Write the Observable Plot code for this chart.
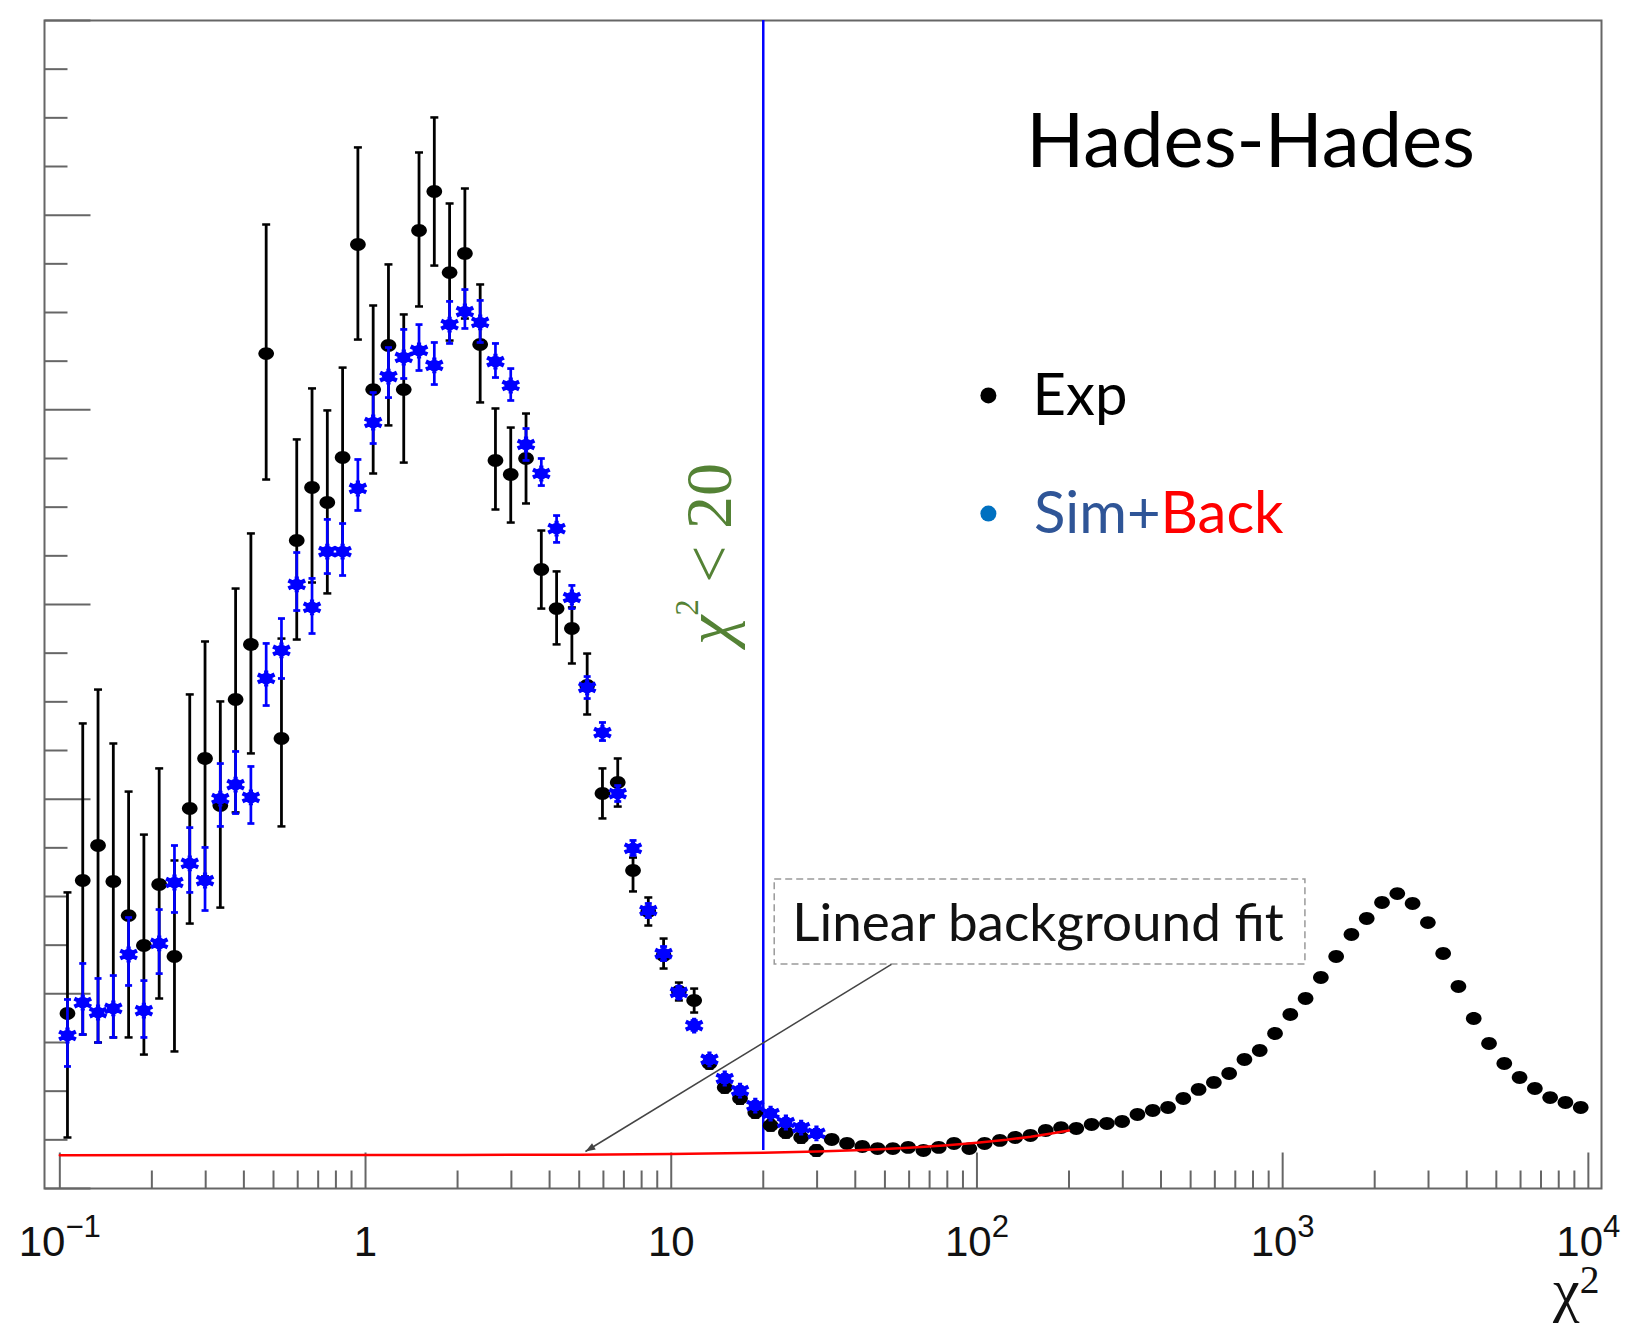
<!DOCTYPE html>
<html>
<head>
<meta charset="utf-8">
<script src="https://cdn.jsdelivr.net/npm/d3@7"></script>
<script src="https://cdn.jsdelivr.net/npm/@observablehq/plot@0.6"></script>
<style>
  html, body { margin: 0; padding: 0; background: #fff; }
  #chart { width: 1630px; height: 1323px; }
</style>
</head>
<body>
<div id="chart"></div>
<script>
// Histogram binning: 20 log-uniform bins per decade, starting at chi2 = 0.1
const binsPerDecade = 20;
const chi2Start = 0.1;

// Experimental distribution (100 bins)
const expCounts = [
  89.9, 158.2, 176.2, 157.7, 140.2, 124.8, 156.2, 119.2, 195.2, 220.9,
  196.7, 251.2, 279.5, 428.9, 231.2, 332.9, 360.1, 352.4, 375.5, 484.9,
  410.4, 433.1, 410.4, 492.1, 512.2, 470.5, 480.3, 433.6, 374.0, 366.8,
  375.0, 318.0, 297.9, 287.7, 258.4, 202.9, 208.6, 163.4, 142.3, 119.7,
  101.2, 96.6, 64.2, 51.9, 46.2, 39.0, 32.4, 28.8, 26.2, 19.5,
  25.2, 23.1, 21.6, 20.5, 20.5, 21.1, 19.5, 21.1, 23.1, 20.5,
  23.1, 24.7, 26.2, 27.2, 29.8, 31.3, 30.8, 32.9, 33.4, 34.4,
  38.0, 40.1, 41.6, 46.2, 50.9, 54.5, 59.1, 66.3, 70.9, 79.6,
  89.4, 97.6, 108.4, 119.2, 130.5, 138.7, 146.9, 151.5, 146.4, 136.6,
  120.7, 103.8, 87.3, 74.5, 64.2, 57.0, 51.4, 46.7, 44.2, 41.6
];
// Error bar ends of the experimental points (first 50 bins)
const expErrHigh = [
  152.1, 238.9, 256.3, 228.6, 203.9, 181.8, 215.8, 168.5, 253.8, 281.0,
  250.2, 308.2, 336.5, 495.2, 282.5, 384.8, 411.0, 399.7, 421.7, 534.8,
  453.6, 474.7, 449.0, 532.2, 550.2, 506.0, 513.7, 464.4, 400.7, 390.9,
  398.1, 338.0, 317.0, 298.5, 274.8, 215.8, 220.9, 170.0, 149.5, 128.4,
  105.8, 102.7, 66.8, 54.5, 48.8, 41.6, 35.0, 31.4, 28.8, 22.1
];
const expErrLow = [
  26.2, 79.1, 75.0, 77.6, 77.6, 68.8, 97.6, 70.4, 136.1, 160.3,
  144.3, 193.2, 223.5, 364.2, 186.0, 282.0, 311.3, 305.7, 327.7, 436.1,
  367.3, 392.0, 372.9, 453.1, 474.1, 435.6, 446.9, 403.8, 348.8, 342.1,
  351.9, 297.9, 279.5, 269.7, 243.5, 190.1, 196.2, 152.6, 135.1, 113.0,
  96.6, 90.4, 61.6, 49.3, 43.6, 36.4, 29.8, 26.2, 23.6, 16.9
];

// Simulation + background (first 50 bins)
const simCounts = [
  78.6, 95.5, 90.4, 92.5, 120.2, 91.4, 125.9, 157.2, 167.0, 158.2,
  200.3, 207.5, 200.9, 262.0, 276.4, 310.3, 298.5, 327.2, 327.2, 359.6,
  393.5, 417.1, 426.9, 430.5, 422.8, 443.8, 450.5, 444.9, 424.8, 412.5,
  382.2, 367.3, 339.0, 303.6, 257.4, 234.2, 202.9, 174.7, 142.8, 120.7,
  100.7, 83.7, 66.3, 56.5, 50.3, 42.6, 38.5, 33.9, 31.3, 28.3
];
const simErrHigh = [
  97.1, 115.6, 107.9, 109.4, 139.2, 106.8, 143.3, 176.2, 185.4, 175.2,
  218.3, 224.5, 216.8, 280.0, 292.8, 326.7, 313.4, 343.7, 341.6, 374.5,
  408.9, 432.0, 441.3, 443.8, 434.6, 455.7, 461.8, 456.2, 434.1, 421.2,
  390.4, 375.0, 345.7, 309.8, 263.0, 239.4, 207.0, 178.8, 146.4, 124.3,
  103.8, 86.3, 68.4, 58.6, 52.4, 44.7, 40.6, 36.0, 33.4, 30.4
];
const simErrLow = [
  62.7, 79.1, 75.0, 77.6, 104.3, 77.6, 110.4, 141.8, 152.1, 142.8,
  186.0, 192.6, 187.5, 248.1, 262.0, 296.9, 285.1, 315.9, 314.9, 348.3,
  382.7, 406.3, 416.1, 420.2, 413.0, 434.1, 441.8, 434.6, 416.6, 404.8,
  374.0, 361.1, 331.9, 297.9, 251.7, 230.1, 198.8, 171.1, 139.2, 117.1,
  97.6, 81.2, 64.2, 54.4, 48.2, 40.5, 36.4, 31.8, 29.2, 26.2
];

// Linear background fit, sampled along chi2
const bgFitX = [0.1, 2, 5, 10, 20, 30, 40, 50, 60, 80, 100, 125, 150, 175, 200];
const bgFitY = [17.1, 17.2, 17.4, 17.7, 18.4, 19.0, 19.6, 20.3, 20.9, 22.2, 23.5, 25.0, 26.6, 28.2, 29.8];

// Selection cut
const chi2Cut = 20;
const cutLineBottom = 19.5;

// Axis ticks and labels
const xMajorTicks = [0.1, 1, 10, 100, 1000, 10000];
const xTickLabels = ["10^{\u22121}", "1", "10", "10^{2}", "10^{3}", "10^{4}"];
const xMinorTicks = d3.range(-1, 4).flatMap(e => d3.range(2, 10).map(k => k * 10 ** e));
const yMajorTicks = d3.range(0, 601, 100);
const yMinorTicks = d3.range(0, 601, 25).filter(v => v % 100 !== 0);

const axisTitle = "\u03c7^{2}";
const cutLabel = "\u03c7^{2} < 20";

// ---------------------------------------------------------------------------
const binCenters = d3.range(expCounts.length).map(i => chi2Start * 10 ** ((i + 0.5) / binsPerDecade));
const expData = expCounts.map((y, i) => ({x: binCenters[i], y, lo: expErrLow[i], hi: expErrHigh[i]}));
const expBars = expData.filter(d => d.lo != null);
const simData = simCounts.map((y, i) => ({x: binCenters[i], y, lo: simErrLow[i], hi: simErrHigh[i]}));
const bgData = bgFitX.map((x, i) => ({x, y: bgFitY[i]}));

// pointer from the annotation box down to the fit line
const pointer = [{x1: 52.5, y1: 115.1, x2: 5.24, y2: 19.0}];

const BLUE = "#0000ff";
const AXIS = "#666";

// marker shapes
const k = 0.5523;
function ellipsePath(ctx, rx, ry) {
  ctx.moveTo(rx, 0);
  ctx.bezierCurveTo(rx, ry * k, rx * k, ry, 0, ry);
  ctx.bezierCurveTo(-rx * k, ry, -rx, ry * k, -rx, 0);
  ctx.bezierCurveTo(-rx, -ry * k, -rx * k, -ry, 0, -ry);
  ctx.bezierCurveTo(rx * k, -ry, rx, -ry * k, rx, 0);
  ctx.closePath();
}
const roundMarker = {
  draw(ctx, size) {
    const r = Math.sqrt(size / Math.PI);
    ellipsePath(ctx, r * 1.12, r * 0.92);
  }
};
const starMarker = {
  draw(ctx, size) {
    const r = Math.sqrt(size / Math.PI);
    for (const a of [90, 30, 150]) {
      const t = a * Math.PI / 180;
      const cx = r * Math.cos(t) * 1.1, cy = r * Math.sin(t) * 0.9;
      ctx.moveTo(-cx, -cy);
      ctx.lineTo(cx, cy);
    }
    ellipsePath(ctx, r * 0.5, r * 0.42);
  }
};
const capMarker = {
  draw(ctx, size) {
    const r = Math.sqrt(size / Math.PI);
    ctx.moveTo(-r, 0);
    ctx.lineTo(r, 0);
  }
};
// filled arrowhead with its tip at the anchor, pointing up before rotation
const headMarker = {
  draw(ctx, size) {
    const r = Math.sqrt(size / Math.PI);
    ctx.moveTo(0, 0);
    ctx.lineTo(-r * 0.8, r * 2.2);
    ctx.lineTo(r * 0.8, r * 2.2);
    ctx.closePath();
  }
};

const chart = Plot.plot({
  width: 1630,
  height: 1323,
  marginLeft: 44,
  marginRight: 29,
  marginTop: 20,
  marginBottom: 135,
  x: {type: "log", domain: [0.0891, 11040], axis: null},
  y: {domain: [0, 600], axis: null},
  style: {background: "#fff", fontFamily: "Liberation Sans, Arial, sans-serif", overflow: "visible"},
  marks: [
    // inward ticks on the left and bottom axes
    Plot.vector(yMinorTicks, {y: d => d, frameAnchor: "left", length: 23, rotate: 90, anchor: "start", r: 0, stroke: AXIS, strokeWidth: 2, strokeLinecap: "butt"}),
    Plot.vector(yMajorTicks, {y: d => d, frameAnchor: "left", length: 46, rotate: 90, anchor: "start", r: 0, stroke: AXIS, strokeWidth: 2, strokeLinecap: "butt"}),
    Plot.vector(xMinorTicks, {x: d => d, frameAnchor: "bottom", length: 18, rotate: 0, anchor: "start", r: 0, stroke: AXIS, strokeWidth: 2, strokeLinecap: "butt"}),
    Plot.vector(xMajorTicks, {x: d => d, frameAnchor: "bottom", length: 36, rotate: 0, anchor: "start", r: 0, stroke: AXIS, strokeWidth: 2, strokeLinecap: "butt"}),
    Plot.frame({stroke: AXIS, strokeWidth: 2}),

    // x tick labels and axis title
    Plot.text(xMajorTicks, {x: d => d, text: (d, i) => xTickLabels[i], frameAnchor: "bottom", dy: 67, lineAnchor: "bottom", textAnchor: "middle", fontSize: 42, fill: "#111"}),
    Plot.text([axisTitle], {text: d => d, frameAnchor: "bottom-right", dx: -2, dy: 121, textAnchor: "end", lineAnchor: "bottom", fontSize: 60, fontFamily: "Liberation Serif, serif", fill: "#111"}),

    // chi2 cut
    Plot.ruleX([chi2Cut], {x: d => d, y1: cutLineBottom, y2: 600, stroke: BLUE, strokeWidth: 2.5}),
    Plot.text([cutLabel], {text: d => d, x: 15.7, y: 326, rotate: -90, textAnchor: "middle", lineAnchor: "bottom", fontSize: 66, fontFamily: "Liberation Serif, serif", fill: "#548235"}),

    // experimental points with error bars
    Plot.ruleX(expBars, {x: "x", y1: "lo", y2: "hi", stroke: "#000", strokeWidth: 2.8}),
    Plot.dot(expBars, {x: "x", y: "lo", symbol: capMarker, r: 4, stroke: "#000", fill: "none", strokeWidth: 2.5}),
    Plot.dot(expBars, {x: "x", y: "hi", symbol: capMarker, r: 4, stroke: "#000", fill: "none", strokeWidth: 2.5}),
    Plot.dot(expData, {x: "x", y: "y", symbol: roundMarker, r: 7, fill: "#000", stroke: "none"}),

    // simulation + background with error bars
    Plot.ruleX(simData, {x: "x", y1: "lo", y2: "hi", stroke: BLUE, strokeWidth: 2.7}),
    Plot.dot(simData, {x: "x", y: "lo", symbol: capMarker, r: 3.5, stroke: BLUE, fill: "none", strokeWidth: 2.7}),
    Plot.dot(simData, {x: "x", y: "hi", symbol: capMarker, r: 3.5, stroke: BLUE, fill: "none", strokeWidth: 2.7}),
    Plot.dot(simData, {x: "x", y: "y", symbol: starMarker, r: 8.8, fill: BLUE, stroke: BLUE, strokeWidth: 4.2}),

    // linear background fit
    Plot.line(bgData, {x: "x", y: "y", stroke: "#ff0000", strokeWidth: 2.5}),

    // annotation box and arrow
    Plot.rect([{x1: 21.8, x2: 1187, y1: 115.1, y2: 158.7}], {x1: "x1", x2: "x2", y1: "y1", y2: "y2", fill: "none", stroke: "#9a9a9a", strokeWidth: 1.5, strokeDasharray: "7,4"}),
    Plot.text(["Linear background fit"], {text: d => d, x: 24.9, y: 126.9, textAnchor: "start", lineAnchor: "bottom", fontSize: 53, fontFamily: "Lato, sans-serif", fill: "#111"}),
    Plot.link(pointer, {x1: "x1", y1: "y1", x2: "x2", y2: "y2", stroke: "#444", strokeWidth: 1.5}),
    Plot.dot(pointer, {x: "x2", y: "y2", symbol: headMarker, r: 4.5, rotate: 238.7, fill: "#444", stroke: "none"}),

    // title and legend
    Plot.text(["Hades-Hades"], {text: d => d, x: 145, y: 525, textAnchor: "start", lineAnchor: "bottom", fontSize: 76, fontFamily: "Lato, sans-serif", fill: "#000"}),
    Plot.dot([{x: 109, y: 407.4, c: "#000"}, {x: 109, y: 346.7, c: "#0070c0"}], {x: "x", y: "y", r: 8, fill: "c", stroke: "none"}),
    Plot.text(["Exp"], {text: d => d, x: 152, y: 397.1, textAnchor: "start", lineAnchor: "bottom", fontSize: 58, fontFamily: "Lato, sans-serif", fill: "#000"}),
    Plot.text(["Sim+"], {text: d => d, x: 398.6, y: 336.5, textAnchor: "end", lineAnchor: "bottom", fontSize: 58, fontFamily: "Lato, sans-serif", fill: "#2f5597"}),
    Plot.text(["Back"], {text: d => d, x: 398.6, y: 336.5, textAnchor: "start", lineAnchor: "bottom", fontSize: 58, fontFamily: "Lato, sans-serif", fill: "#ff0000"})
  ]
});

document.getElementById("chart").appendChild(chart);

// Render "a^{b}c" with a raised, smaller exponent
const superscriptStyle = new Map([
  [axisTitle, {size: 0.66, rise: 0.28}],
  [cutLabel, {size: 0.5, rise: 0.5, italicBase: true}]
]);
const defaultSuperscript = {size: 0.74, rise: 0.45};

function applySuperscripts(svg) {
  const ns = "http://www.w3.org/2000/svg";
  for (const el of svg.querySelectorAll("text")) {
    const s = el.textContent;
    const m = s.match(/^(.*?)\^\{(.*?)\}(.*)$/);
    if (!m) continue;
    const {size, rise, italicBase} = superscriptStyle.get(s) || defaultSuperscript;
    const fs = parseFloat(getComputedStyle(el).fontSize) || 40;
    const up = rise * fs;
    el.textContent = "";
    const base = document.createElementNS(ns, "tspan");
    base.textContent = m[1];
    if (italicBase) base.setAttribute("font-style", "italic");
    el.appendChild(base);
    const sup = document.createElementNS(ns, "tspan");
    sup.textContent = m[2];
    sup.setAttribute("font-size", (size * fs).toFixed(1));
    sup.setAttribute("dy", (-up).toFixed(1));
    el.appendChild(sup);
    if (m[3]) {
      const rest = document.createElementNS(ns, "tspan");
      rest.textContent = m[3];
      rest.setAttribute("dy", up.toFixed(1));
      el.appendChild(rest);
    }
  }
}
applySuperscripts(chart);
</script>
</body>
</html>
